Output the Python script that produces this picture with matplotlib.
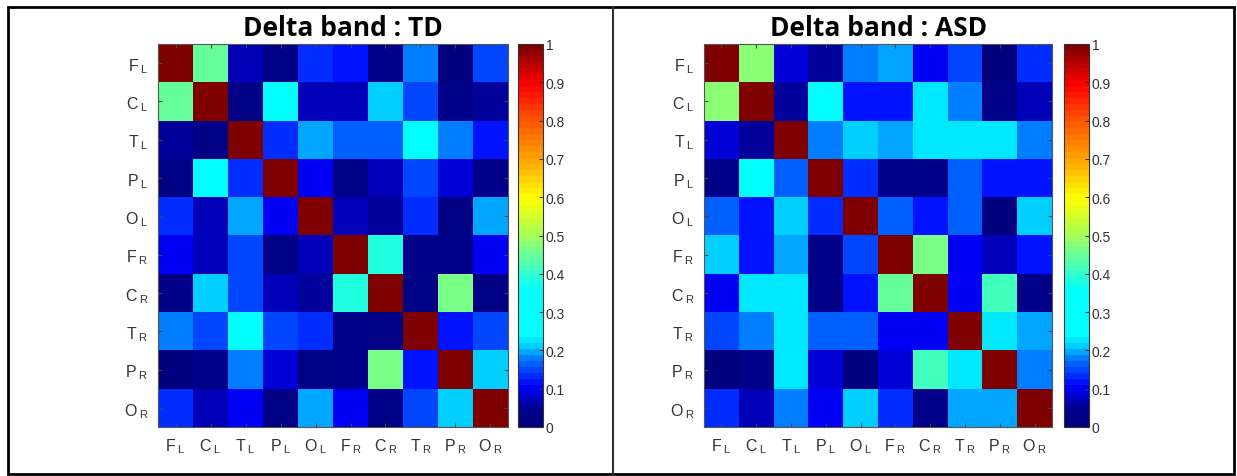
import numpy as np
import matplotlib
matplotlib.use("Agg")
import matplotlib.pyplot as plt
from matplotlib.colors import LinearSegmentedColormap
from matplotlib.patches import Rectangle
from matplotlib.lines import Line2D

plt.rcParams['font.family'] = ['Liberation Sans', 'DejaVu Sans']
plt.rcParams['mathtext.fontset'] = 'custom'
plt.rcParams['mathtext.rm'] = 'Liberation Sans'
plt.rcParams['mathtext.it'] = 'Liberation Sans'

regions = ["F", "C", "T", "P", "O", "F", "C", "T", "P", "O"]
sides = ["L", "L", "L", "L", "L", "R", "R", "R", "R", "R"]

titles = ["Delta band : TD", "Delta band : ASD"]

# connectivity, TD group
td = [
    [1.00, 0.445, 0.07, 0.02, 0.14, 0.115, 0.04, 0.18, 0.01, 0.145],
    [0.445, 1.00, 0.02, 0.29, 0.075, 0.075, 0.21, 0.155, 0.04, 0.06],
    [0.06, 0.02, 1.00, 0.14, 0.195, 0.16, 0.16, 0.29, 0.18, 0.115],
    [0.02, 0.29, 0.13, 1.00, 0.10, 0.02, 0.07, 0.155, 0.085, 0.04],
    [0.13, 0.075, 0.195, 0.10, 1.00, 0.075, 0.05, 0.13, 0.02, 0.195],
    [0.10, 0.075, 0.155, 0.02, 0.075, 1.00, 0.375, 0.04, 0.04, 0.10],
    [0.04, 0.21, 0.155, 0.075, 0.06, 0.375, 1.00, 0.02, 0.46, 0.02],
    [0.18, 0.155, 0.29, 0.155, 0.13, 0.04, 0.02, 1.00, 0.12, 0.155],
    [0.01, 0.04, 0.18, 0.085, 0.02, 0.04, 0.46, 0.12, 1.00, 0.205],
    [0.13, 0.07, 0.10, 0.02, 0.195, 0.10, 0.02, 0.155, 0.205, 1.00],
]

# connectivity, ASD group
asd = [
    [1.00, 0.48, 0.085, 0.06, 0.18, 0.20, 0.10, 0.155, 0.01, 0.14],
    [0.48, 1.00, 0.06, 0.29, 0.115, 0.115, 0.225, 0.185, 0.04, 0.07],
    [0.085, 0.06, 1.00, 0.18, 0.21, 0.20, 0.225, 0.23, 0.225, 0.185],
    [0.04, 0.29, 0.17, 1.00, 0.14, 0.04, 0.04, 0.17, 0.115, 0.115],
    [0.17, 0.12, 0.21, 0.13, 1.00, 0.16, 0.12, 0.17, 0.01, 0.215],
    [0.205, 0.12, 0.20, 0.04, 0.155, 1.00, 0.455, 0.10, 0.075, 0.12],
    [0.10, 0.225, 0.225, 0.04, 0.12, 0.445, 1.00, 0.10, 0.42, 0.04],
    [0.155, 0.185, 0.23, 0.17, 0.17, 0.095, 0.095, 1.00, 0.225, 0.20],
    [0.01, 0.04, 0.225, 0.09, 0.01, 0.085, 0.42, 0.225, 1.00, 0.185],
    [0.14, 0.07, 0.185, 0.095, 0.215, 0.13, 0.04, 0.20, 0.19, 1.00],
]

cbar_ticks = [0, 0.1, 0.2, 0.3, 0.4, 0.5, 0.6, 0.7, 0.8, 0.9, 1]

# stretched jet like the one in the original colorbar
cmap = LinearSegmentedColormap.from_list("jet_stretched", [
    (0.00, (0.0, 0.0, 0.5)),
    (0.04, (0.0, 0.0, 0.55)),
    (0.10, (0.0, 0.0, 1.0)),
    (0.17, (0.0, 0.45, 1.0)),
    (0.21, (0.0, 0.85, 1.0)),
    (0.24, (0.0, 1.0, 1.0)),
    (0.35, (0.0, 1.0, 1.0)),
    (0.40, (0.2, 1.0, 0.8)),
    (0.50, (0.65, 1.0, 0.35)),
    (0.60, (1.0, 1.0, 0.0)),
    (0.70, (1.0, 0.65, 0.0)),
    (0.80, (1.0, 0.35, 0.0)),
    (0.90, (1.0, 0.0, 0.0)),
    (1.00, (0.5, 0.0, 0.0)),
], N=64)

W, H = 1237, 477
fig = plt.figure(figsize=(W / 100, H / 100), dpi=100)


def box(l, t, r, b):
    return [l / W, 1 - b / H, (r - l) / W, (b - t) / H]


labels = [r'$\mathrm{%s_{\;%s}}$' % (r, s) for r, s in zip(regions, sides)]
panels = [
    (td, box(158, 45, 508, 428), box(518, 45, 543, 428), 343),
    (asd, box(704, 45, 1052, 428), box(1064, 45, 1089, 428), 879),
]

for (mat, axpos, cpos, tx), title in zip(panels, titles):
    ax = fig.add_axes(axpos)
    im = ax.imshow(np.array(mat), cmap=cmap, vmin=0, vmax=1,
                   aspect='auto', interpolation='nearest')
    ax.set_xticks(range(10))
    ax.set_yticks(range(10))
    ax.set_xticklabels(labels, fontsize=11.5, color='#333333')
    ax.set_yticklabels(labels, fontsize=11.5, color='#333333')
    ax.tick_params(direction='in', length=3, top=True, right=True,
                   color='#444444', pad=7)
    for sp in ax.spines.values():
        sp.set_color('#555555')
    fig.text(tx / W, 1 - 29 / H, title, ha='center', va='center',
             fontsize=19, fontweight='bold',
             family=['Liberation Sans Narrow', 'Open Sans'])

    cax = fig.add_axes(cpos)
    cb = fig.colorbar(im, cax=cax, ticks=cbar_ticks)
    cb.ax.set_yticklabels([('%g' % v) for v in cbar_ticks])
    cb.ax.tick_params(direction='in', length=3, labelsize=10,
                      labelcolor='#333333', color='#333333', pad=2)
    cb.outline.set_edgecolor('#333333')

# frame around the two panels and the divider
fig.add_artist(Rectangle((8 / W, 1 - 475 / H), (1234 - 8) / W, (475 - 8) / H,
                         transform=fig.transFigure, fill=False,
                         edgecolor='black', lw=2))
fig.add_artist(Line2D([613 / W, 613 / W], [1 - 475 / H, 1 - 8 / H],
                      transform=fig.transFigure, color='#333333', lw=1.5))

fig.savefig("out.png", dpi=100)
